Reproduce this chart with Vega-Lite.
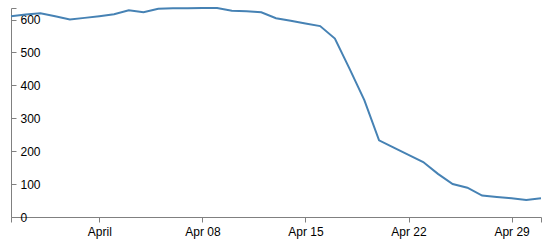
{
  "$schema": "https://vega.github.io/schema/vega-lite/v6.json",
  "width": 530,
  "height": 209,
  "autosize": {"type": "none"},
  "padding": {"left": 11, "top": 8, "right": 12, "bottom": 29},
  "background": "white",
  "config": {"view": {"stroke": null}},
  "data": {"values": [
    {"date": "2012/03/26", "value": 610},
    {"date": "2012/03/27", "value": 615},
    {"date": "2012/03/28", "value": 619},
    {"date": "2012/03/29", "value": 610},
    {"date": "2012/03/30", "value": 600},
    {"date": "2012/03/31", "value": 605},
    {"date": "2012/04/01", "value": 610},
    {"date": "2012/04/02", "value": 616},
    {"date": "2012/04/03", "value": 628},
    {"date": "2012/04/04", "value": 622},
    {"date": "2012/04/05", "value": 633},
    {"date": "2012/04/06", "value": 634},
    {"date": "2012/04/07", "value": 634},
    {"date": "2012/04/08", "value": 635},
    {"date": "2012/04/09", "value": 635},
    {"date": "2012/04/10", "value": 627},
    {"date": "2012/04/11", "value": 625},
    {"date": "2012/04/12", "value": 622},
    {"date": "2012/04/13", "value": 604},
    {"date": "2012/04/14", "value": 596},
    {"date": "2012/04/15", "value": 588},
    {"date": "2012/04/16", "value": 580},
    {"date": "2012/04/17", "value": 542},
    {"date": "2012/04/18", "value": 450},
    {"date": "2012/04/19", "value": 355},
    {"date": "2012/04/20", "value": 233},
    {"date": "2012/04/21", "value": 211},
    {"date": "2012/04/22", "value": 189},
    {"date": "2012/04/23", "value": 167},
    {"date": "2012/04/24", "value": 131},
    {"date": "2012/04/25", "value": 100},
    {"date": "2012/04/26", "value": 89},
    {"date": "2012/04/27", "value": 65},
    {"date": "2012/04/28", "value": 61},
    {"date": "2012/04/29", "value": 57},
    {"date": "2012/04/30", "value": 52},
    {"date": "2012/05/01", "value": 57}
  ]},
  "mark": {"type": "line", "color": "#4682b4", "strokeWidth": 2, "interpolate": "linear"},
  "encoding": {
    "x": {
      "field": "date",
      "type": "temporal",
      "title": null,
      "scale": {"nice": false},
      "axis": {
        "values": [
          {"year": 2012, "month": 3, "date": 26},
          {"year": 2012, "month": 4, "date": 1},
          {"year": 2012, "month": 4, "date": 8},
          {"year": 2012, "month": 4, "date": 15},
          {"year": 2012, "month": 4, "date": 22},
          {"year": 2012, "month": 4, "date": 29},
          {"year": 2012, "month": 5, "date": 1}
        ],
        "labelExpr": "month(datum.value) == 2 || month(datum.value) == 4 ? '' : (date(datum.value) == 1 ? 'April' : timeFormat(datum.value, '%b %d'))",
        "grid": false,
        "domainColor": "#808080",
        "tickColor": "#808080",
        "tickSize": 5,
        "labelPadding": 4,
        "labelFont": "Liberation Sans",
        "labelFontSize": 12,
        "labelColor": "#000000",
        "labelFlush": false,
        "labelOverlap": false
      }
    },
    "y": {
      "field": "value",
      "type": "quantitative",
      "title": null,
      "scale": {"domain": [0, 635], "nice": false},
      "axis": {
        "orient": "right",
        "offset": -530,
        "values": [0, 100, 200, 300, 400, 500, 600, 635],
        "labelExpr": "datum.value > 620 ? '' : datum.label",
        "grid": false,
        "domainColor": "#808080",
        "tickColor": "#808080",
        "tickSize": 5,
        "labelPadding": 4,
        "labelFont": "Liberation Sans",
        "labelFontSize": 12,
        "labelColor": "#000000",
        "labelFlush": false,
        "labelOverlap": false
      }
    }
  }
}
